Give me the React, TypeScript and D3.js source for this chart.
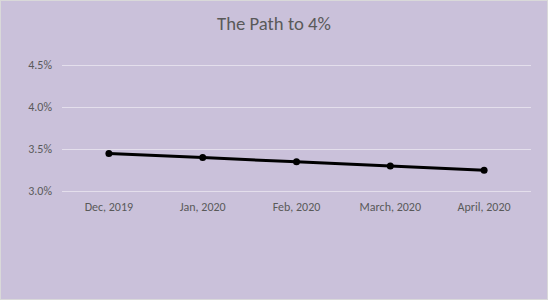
import React from "react";
import * as d3 from "d3";

const categories = ["Dec, 2019", "Jan, 2020", "Feb, 2020", "March, 2020", "April, 2020"];
const values = [3.45, 3.4, 3.35, 3.3, 3.25];
const yTicks = [3.0, 3.5, 4.0, 4.5];
const title = "The Path to 4%";

const W = 548;
const H = 300;
const FONT = "Carlito, 'Liberation Sans', Arial, sans-serif";

export default function App() {
  const x = d3.scaleBand<string>().domain(categories).range([62, 531]);
  const y = d3.scaleLinear().domain([3.0, 4.5]).range([191.3, 65]);
  const line = d3
    .line<number>()
    .x((_, i) => (x(categories[i]) as number) + x.bandwidth() / 2)
    .y((d) => y(d));

  return (
    <svg
      width={W}
      height={H}
      style={{ position: "absolute", left: 0, top: 0, display: "block" }}
    >
      <rect x={0.5} y={0.5} width={W - 1} height={H - 1} fill="#CAC1DA" stroke="#D9D9D9" strokeWidth={1} />
      <text x={274} y={30} textAnchor="middle" fontFamily={FONT} fontSize={18.7} fill="#595959">
        {title}
      </text>
      {yTicks.map((t) => (
        <g key={t}>
          <line x1={62} x2={531} y1={Math.round(y(t)) + 0.5} y2={Math.round(y(t)) + 0.5} stroke="#E4DFEC" strokeWidth={1} />
          <text x={52} y={y(t) + 4} textAnchor="end" fontFamily={FONT} fontSize={12} fill="#595959">
            {t.toFixed(1) + "%"}
          </text>
        </g>
      ))}
      {categories.map((c) => (
        <text
          key={c}
          x={(x(c) as number) + x.bandwidth() / 2}
          y={211}
          textAnchor="middle"
          fontFamily={FONT}
          fontSize={12}
          fill="#595959"
        >
          {c}
        </text>
      ))}
      <path d={line(values) || ""} fill="none" stroke="#000" strokeWidth={3} strokeLinejoin="round" />
      {values.map((v, i) => (
        <circle
          key={i}
          cx={(x(categories[i]) as number) + x.bandwidth() / 2}
          cy={y(v)}
          r={3.5}
          fill="#000"
        />
      ))}
    </svg>
  );
}
